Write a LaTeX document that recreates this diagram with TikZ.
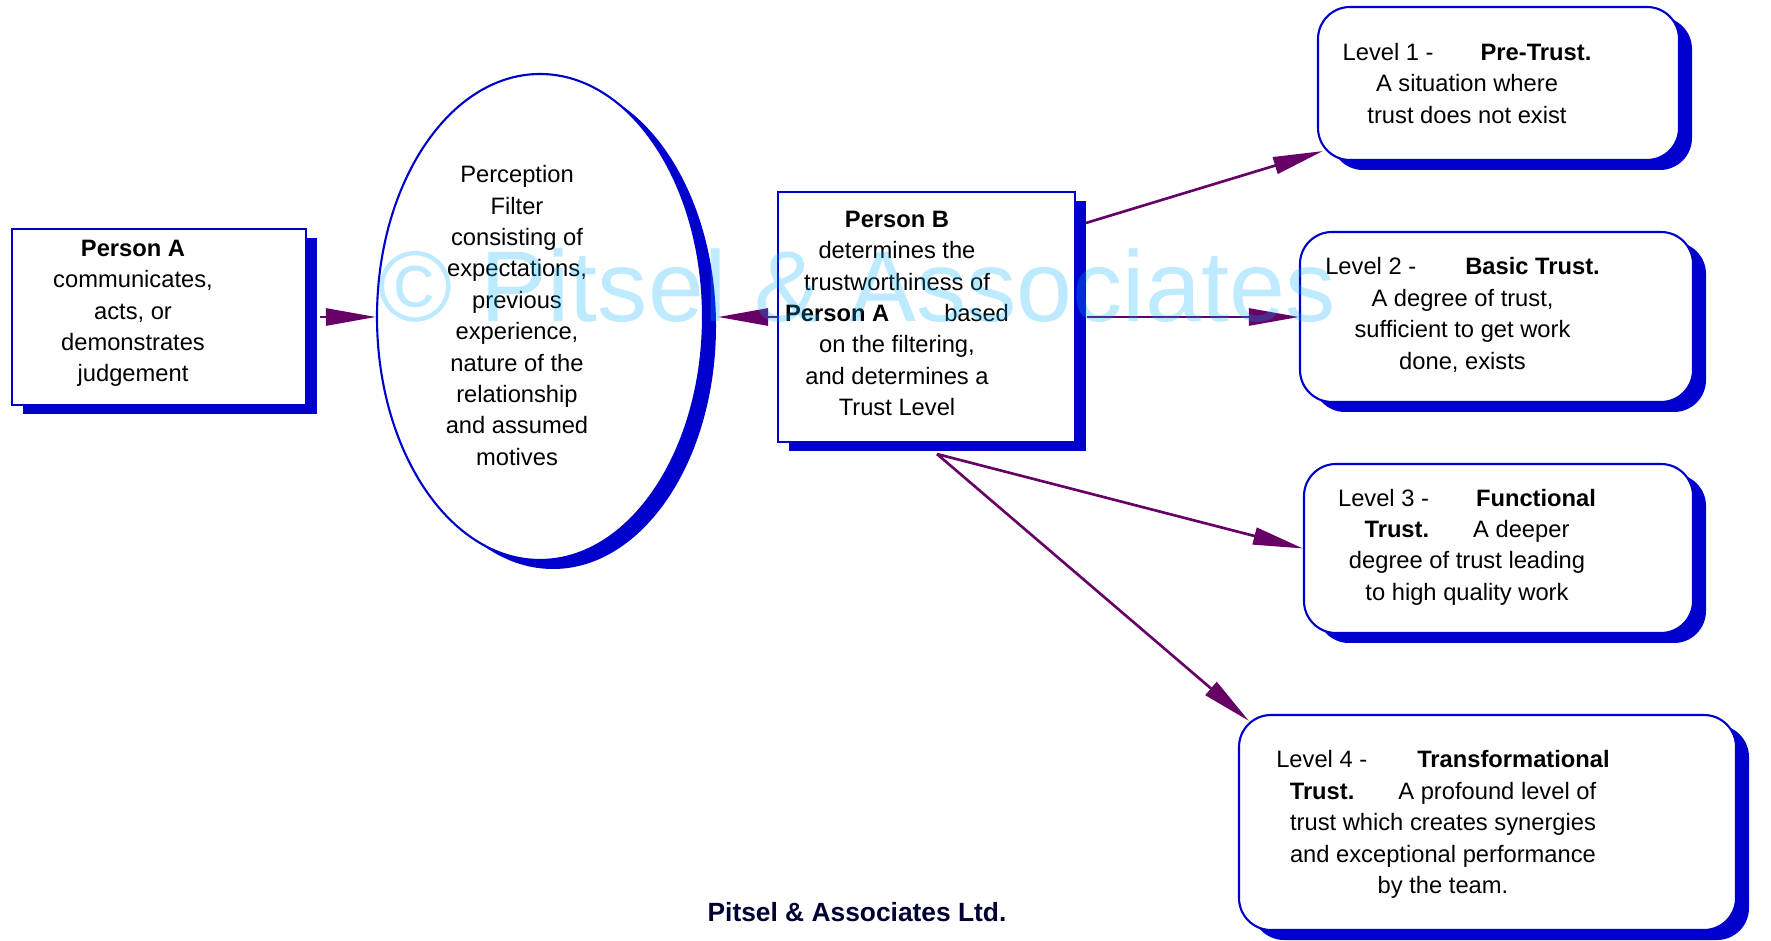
\documentclass[tikz,border=0pt]{standalone}
\usepackage{fontspec}
\setmainfont{Liberation Sans}
\usetikzlibrary{shapes.geometric,shadows,arrows.meta}
\definecolor{boxblue}{RGB}{0,0,204}
\definecolor{arrowpurple}{RGB}{102,0,102}
\definecolor{markcyan}{RGB}{0,176,255}
\definecolor{footnavy}{RGB}{0,0,51}
\begin{document}
\begin{tikzpicture}[x=0.1mm,y=-0.1mm,
  frame/.style={draw=boxblue,line width=0.6pt,fill=white,inner sep=0pt},
  box/.style={frame,drop shadow={shadow xshift=1.1mm,shadow yshift=-0.9mm,opacity=1,fill=boxblue}},
  filter/.style={frame,ellipse,drop shadow={shadow xshift=1.3mm,shadow yshift=-0.9mm,opacity=1,fill=boxblue}},
  level/.style={frame,rounded corners=3.2mm,drop shadow={shadow xshift=1.3mm,shadow yshift=-1mm,opacity=1,fill=boxblue}},
  txt/.style={align=center,inner sep=0pt,font=\fontsize{6.75}{8.93}\selectfont},
  flow/.style={draw=arrowpurple,line width=0.75pt,-{Triangle[length=5mm,width=1.7mm]}}]
  \useasboundingbox (0,0) rectangle (1771,941);
  \node[box,minimum width=29.4mm,minimum height=17.6mm] (pa) at (159,317) {};
  \node[txt] (pa-txt) at ([shift={(-2.6mm,0.35mm)}]pa.center) {\textbf{Person A}\\communicates,\\acts, or\\demonstrates\\judgement};
  \node[filter,minimum width=32.6mm,minimum height=48.6mm] (ell) at (540,317) {};
  \node[txt] (ell-txt) at ([shift={(-2.3mm,0.15mm)}]ell.center) {Perception\\Filter\\consisting of\\expectations,\\previous\\experience,\\nature of the\\relationship\\and assumed\\motives};
  \node[box,minimum width=29.7mm,minimum height=25mm] (pb) at (926.5,317) {};
  \node[txt] (pb-txt) at ([shift={(-2.95mm,0.35mm)}]pb.center) {\textbf{Person B}\\determines the\\trustworthiness of\\\textbf{Person A}\hspace{5.5mm}based\\on the filtering,\\and determines a\\Trust Level};
  \node[level,minimum width=36.1mm,minimum height=15.3mm] (l1) at (1498.5,83.5) {};
  \node[txt] (l1-txt) at ([xshift=-3.15mm]l1.center) {Level 1 -\hspace{4.7mm}\textbf{Pre-Trust.}\\A situation where\\trust does not exist};
  \node[level,minimum width=39.3mm,minimum height=17mm] (l2) at (1496.5,317) {};
  \node[txt] (l2-txt) at ([shift={(-3.4mm,0.2mm)}]l2.center) {Level 2 -\hspace{4.9mm}\textbf{Basic Trust.}\\A degree of trust,\\sufficient to get work\\done, exists};
  \node[level,minimum width=38.9mm,minimum height=16.9mm] (l3) at (1498.5,548.5) {};
  \node[txt] (l3-txt) at ([shift={(-3.15mm,0.15mm)}]l3.center) {Level 3 -\hspace{4.7mm}\textbf{Functional}\\\textbf{Trust.}\hspace{4.4mm}A deeper\\degree of trust leading\\to high quality work};
  \node[level,minimum width=49.7mm,minimum height=21.5mm] (l4) at (1487.5,822.5) {};
  \node[txt] (l4-txt) at ([shift={(-4.45mm,-0.2mm)}]l4.center) {Level 4 -\hspace{5mm}\textbf{Transformational}\\\textbf{Trust.}\hspace{4.4mm}A profound level of\\trust which creates synergies\\and exceptional performance\\by the team.};
  \coordinate (pb-ne) at ([shift={(1mm,-3.2mm)}]pb.north east);
  \coordinate (pb-s) at ([shift={(1.05mm,-1.1mm)}]pb.south);
  \draw[flow] ([xshift=1.3mm]pa.east) -- (ell.west);
  \draw[flow] (pb.west) -- ([xshift=1.4mm]ell.east);
  \draw[flow] (pb-ne) -- ([shift={(0.6mm,1mm)}]l1.south west);
  \draw[flow] ([xshift=1.1mm]pb.east) -- (l2.west);
  \draw[flow] (pb-s) -- (l3.west);
  \draw[flow] (pb-s) -- ([shift={(1.1mm,-0.7mm)}]l4.north west);
  \node[anchor=base,text=markcyan,text opacity=0.255,font=\fontsize{28.6}{28.6}\selectfont] (mark) at (857,322) {© Pitsel \& Associates};
  \node[text=footnavy,font=\bfseries\fontsize{7.5}{9}\selectfont] (footer) at (857,912) {Pitsel \& Associates Ltd.};
\end{tikzpicture}
\end{document}
